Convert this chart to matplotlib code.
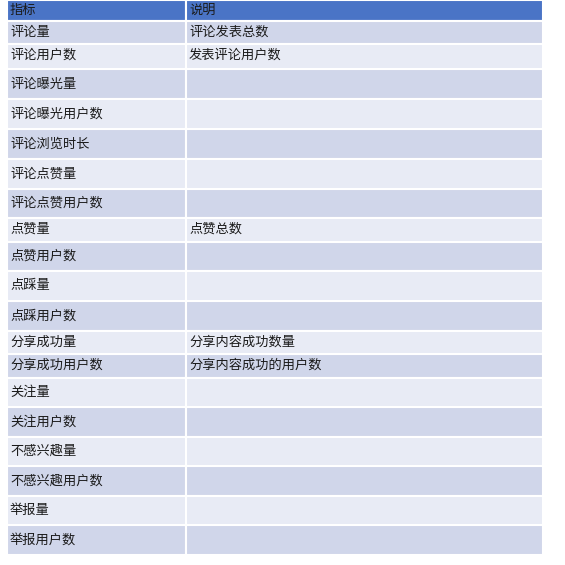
import matplotlib
matplotlib.use("Agg")
import matplotlib.pyplot as plt
from matplotlib.patches import Rectangle

plt.rcParams['font.family'] = ['Noto Sans CJK SC', 'DejaVu Sans']

HEADER = ["指标", "说明"]
METRICS = ["评论量", "评论用户数", "评论曝光量", "评论曝光用户数", "评论浏览时长",
           "评论点赞量", "评论点赞用户数", "点赞量", "点赞用户数", "点踩量", "点踩用户数",
           "分享成功量", "分享成功用户数", "关注量", "关注用户数", "不感兴趣量",
           "不感兴趣用户数", "举报量", "举报用户数"]
NOTES = ["评论发表总数", "发表评论用户数", "", "", "", "", "", "点赞总数", "", "", "",
         "分享内容成功数量", "分享内容成功的用户数", "", "", "", "", "", ""]
# row bottom edges in pixels (header first)
ROW_EDGES = [0, 21, 44, 69, 99, 129, 159, 189, 218, 242, 271, 301, 331, 354, 378,
             407, 437, 466, 496, 525, 555]

fig = plt.figure(figsize=(5.65, 5.65), dpi=100)
ax = fig.add_axes([0, 0, 1, 1])
ax.set_xlim(0, 565)
ax.set_ylim(565, 0)
ax.axis("off")

X0, XM, X1 = 7, 186, 543
for i in range(len(ROW_EDGES) - 1):
    top, bot = ROW_EDGES[i], ROW_EDGES[i + 1]
    if i == 0:
        col = "#4a74c6"
    else:
        col = "#d0d6ea" if i % 2 == 1 else "#e8ebf5"
    for xa, xb in ((X0, XM), (XM, X1)):
        ax.add_patch(Rectangle((xa, top), xb - xa, bot - top, facecolor=col,
                               edgecolor="white", lw=1.5))
    if i == 0:
        left, right = HEADER
    else:
        left, right = METRICS[i - 1], NOTES[i - 1]
    # short rows with notes have text near the top, others centred
    yc = top + min(11, (bot - top) / 2) if right else (top + bot) / 2
    if i == 0:
        yc = (top + bot) / 2
    ax.text(X0 + 3, yc, left, va="center", ha="left", fontsize=9.5, color="#1a1a1a")
    if right:
        ax.text(XM + 3, yc, right, va="center", ha="left", fontsize=9.5, color="#1a1a1a")

fig.savefig("out.png", dpi=100, facecolor="white")
